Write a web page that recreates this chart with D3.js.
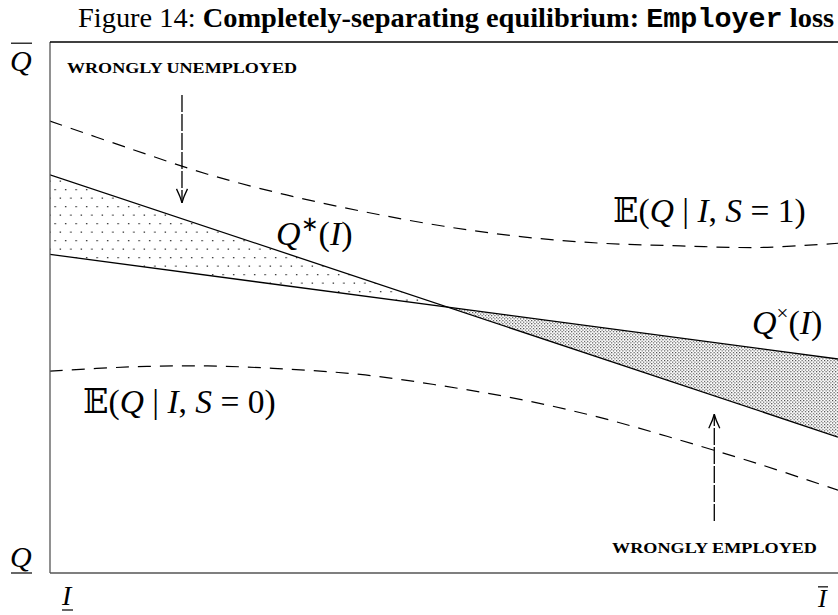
<!DOCTYPE html>
<html><head><meta charset="utf-8">
<script src="https://cdn.jsdelivr.net/npm/d3@7"></script>
<style>body{margin:0;background:#fff} svg{display:block}</style>
</head><body><svg id="chart" width="838" height="615"></svg>
<script>
// Income grid (x) and quality levels (y), both on a 0–100 scale between the bounds.
const incomeGrid = [0, 10, 20, 30, 40, 50, 60, 70, 80, 90, 100];
const expectedQualityHired = [85.1, 80.0, 75.1, 71.2, 68.0, 65.3, 63.3, 62.1, 61.6, 61.3, 62.1];
const expectedQualityRejected = [38.0, 38.8, 39.0, 38.4, 37.3, 35.2, 32.6, 29.2, 25.0, 20.5, 15.6];
const cutoffIncome = [0, 100];
const qStar = [75.0, 25.6];
const qCross = [60.0, 40.3];
// Annotation arrows: income position and quality span (from, to)
const arrowUnemployed = {x: 16.75, from: 90.0, to: 69.7};
const arrowEmployed = {x: 84.3, from: 9.8, to: 29.9};

const svg = d3.select("#chart");
const W = 838, H = 615;
const x = d3.scaleLinear().domain([0, 100]).range([50, 838]);
const y = d3.scaleLinear().domain([0, 100]).range([573, 42]);

const serif = "'Liberation Serif', 'Times New Roman', serif";

// dotted fills
const defs = svg.append("defs");
const sparse = defs.append("pattern").attr("id", "sparseDots")
  .attr("patternUnits", "userSpaceOnUse").attr("width", 10.5).attr("height", 17);
sparse.append("rect").attr("x", 2).attr("y", 2).attr("width", 1.3).attr("height", 1.3).attr("fill", "#222");
sparse.append("rect").attr("x", 7.25).attr("y", 10.5).attr("width", 1.3).attr("height", 1.3).attr("fill", "#222");
const dense = defs.append("pattern").attr("id", "denseDots")
  .attr("patternUnits", "userSpaceOnUse").attr("width", 3.2).attr("height", 3.2);
dense.append("rect").attr("x", 0).attr("y", 0).attr("width", 1.1).attr("height", 1.1).attr("fill", "#333");
dense.append("rect").attr("x", 1.6).attr("y", 1.6).attr("width", 1.1).attr("height", 1.1).attr("fill", "#333");

defs.append("clipPath").attr("id", "plotClip").append("rect")
  .attr("x", x(0)).attr("y", y(100)).attr("width", x(100) - x(0)).attr("height", y(0) - y(100));

const starAt = d3.scaleLinear().domain(cutoffIncome).range(qStar);
const crossAt = d3.scaleLinear().domain(cutoffIncome).range(qCross);
// where the two cutoffs cross
const slopeDiff = (qStar[1] - qStar[0]) - (qCross[1] - qCross[0]);
const xCross = cutoffIncome[0] + (qCross[0] - qStar[0]) / slopeDiff * (cutoffIncome[1] - cutoffIncome[0]);

const plot = svg.append("g").attr("clip-path", "url(#plotClip)");

const band = d3.area().x(d => x(d)).y0(d => y(crossAt(d))).y1(d => y(starAt(d)));
plot.append("path").attr("d", band([cutoffIncome[0], xCross])).attr("fill", "url(#sparseDots)");
plot.append("path").attr("d", band([xCross, cutoffIncome[1]])).attr("fill", "url(#denseDots)");

const straight = d3.line().x(d => x(d[0])).y(d => y(d[1]));
plot.append("path").attr("d", straight(cutoffIncome.map((v, i) => [v, qStar[i]])))
  .attr("fill", "none").attr("stroke", "#000").attr("stroke-width", 1.3);
plot.append("path").attr("d", straight(cutoffIncome.map((v, i) => [v, qCross[i]])))
  .attr("fill", "none").attr("stroke", "#000").attr("stroke-width", 1.3);

const smooth = d3.line().x(d => x(d[0])).y(d => y(d[1])).curve(d3.curveCatmullRom);
[expectedQualityHired, expectedQualityRejected].forEach(series => {
  plot.append("path").attr("d", smooth(incomeGrid.map((v, i) => [v, series[i]])))
    .attr("fill", "none").attr("stroke", "#000").attr("stroke-width", 1.2)
    .attr("stroke-dasharray", "13,9");
});

// frame
svg.append("line").attr("x1", x(0)).attr("x2", x(0)).attr("y1", y(100)).attr("y2", y(0))
  .attr("stroke", "#555").attr("stroke-width", 1.3);
svg.append("line").attr("x1", x(0)).attr("x2", W).attr("y1", y(100)).attr("y2", y(100))
  .attr("stroke", "#000").attr("stroke-width", 1.6);
svg.append("line").attr("x1", x(0)).attr("x2", W).attr("y1", y(0)).attr("y2", y(0))
  .attr("stroke", "#555").attr("stroke-width", 1.3);

// annotation arrows
function arrow(a) {
  const px = x(a.x), y0 = y(a.from), y1 = y(a.to);
  const dir = Math.sign(y1 - y0);
  svg.append("line").attr("x1", px).attr("x2", px).attr("y1", y0).attr("y2", y1)
    .attr("stroke", "#000").attr("stroke-width", 1.3).attr("stroke-dasharray", "17,2");
  const back = y1 - dir * 14;
  svg.append("path")
    .attr("d", `M${px - 5.5},${back} Q${px - 1.5},${y1 - dir * 6} ${px},${y1} Q${px + 1.5},${y1 - dir * 6} ${px + 5.5},${back}`)
    .attr("fill", "none").attr("stroke", "#000").attr("stroke-width", 1.3);
}
arrow(arrowUnemployed);
arrow(arrowEmployed);

// title
const title = svg.append("text").attr("x", 78).attr("y", 27)
  .attr("font-family", serif).attr("font-size", 28);
title.append("tspan").text("Figure 14: ");
title.append("tspan").attr("font-weight", "bold").text("Completely-separating equilibrium: ");
title.append("tspan").attr("font-weight", "bold").attr("font-family", "'Liberation Mono', monospace").text("Employer");
title.append("tspan").attr("font-weight", "bold").text(" loss");
{
  const w = title.node().getComputedTextLength();
  title.attr("textLength", 756).attr("lengthAdjust", "spacingAndGlyphs");
  if (Math.abs(w - 756) > 60) title.attr("textLength", null);
}

// small caps annotations (wide, short letters)
function capsNote(px, py, len, str) {
  svg.append("text").attr("transform", `translate(${px},${py}) scale(1,0.78)`)
    .attr("font-family", serif).attr("font-weight", "bold")
    .attr("font-size", 17.5).attr("textLength", len).attr("lengthAdjust", "spacingAndGlyphs").text(str);
}
capsNote(67, 73, 230, "WRONGLY UNEMPLOYED");
capsNote(612, 553, 205, "WRONGLY EMPLOYED");

// math labels
function mathLabel(px, py, parts, size) {
  const t = svg.append("text").attr("x", px).attr("y", py)
    .attr("font-family", serif).attr("font-size", size);
  parts.forEach(p => {
    const s = t.append("tspan").text(p.t);
    if (p.i) s.attr("font-style", "italic");
    if (p.f) s.attr("font-family", p.f);
    if (p.sup) s.attr("font-size", size * 0.62).attr("dy", -size * 0.42);
    if (p.down) s.attr("dy", size * 0.42);
  });
  return t;
}
const bb = "'DejaVu Serif', 'DejaVu Sans', serif";
mathLabel(613, 222, [{t: "𝔼", f: bb}, {t: "("}, {t: "Q", i: 1}, {t: " | "}, {t: "I", i: 1}, {t: ", "}, {t: "S", i: 1}, {t: " = 1)"}], 33.5);
mathLabel(83, 413, [{t: "𝔼", f: bb}, {t: "("}, {t: "Q", i: 1}, {t: " | "}, {t: "I", i: 1}, {t: ", "}, {t: "S", i: 1}, {t: " = 0)"}], 33.5);
mathLabel(276, 245, [{t: "Q", i: 1}, {t: "∗", sup: 1}, {t: "(", down: 1}, {t: "I", i: 1}, {t: ")"}], 34);
mathLabel(752, 334, [{t: "Q", i: 1}, {t: "×", sup: 1}, {t: "(", down: 1}, {t: "I", i: 1}, {t: ")"}], 34);

// bound labels with over/under bars; gap is the bar distance from the glyph
function boundLabel(px, py, ch, bar, size, gap) {
  const t = svg.append("text").attr("x", px).attr("y", py).attr("font-family", serif)
    .attr("font-style", "italic").attr("font-size", size).text(ch);
  const b = t.node().getBBox();
  const ly = bar === "over" ? py - size * 0.66 - gap : py + gap;
  svg.append("line").attr("x1", b.x + 1).attr("x2", b.x + b.width).attr("y1", ly).attr("y2", ly)
    .attr("stroke", "#000").attr("stroke-width", 1.2);
}
boundLabel(10, 71, "Q", "over", 30, 8);
boundLabel(10, 567, "Q", "under", 30, 6);
boundLabel(62, 605, "I", "under", 28, 5);
boundLabel(818, 607, "I", "over", 26, 3);
</script></body></html>
